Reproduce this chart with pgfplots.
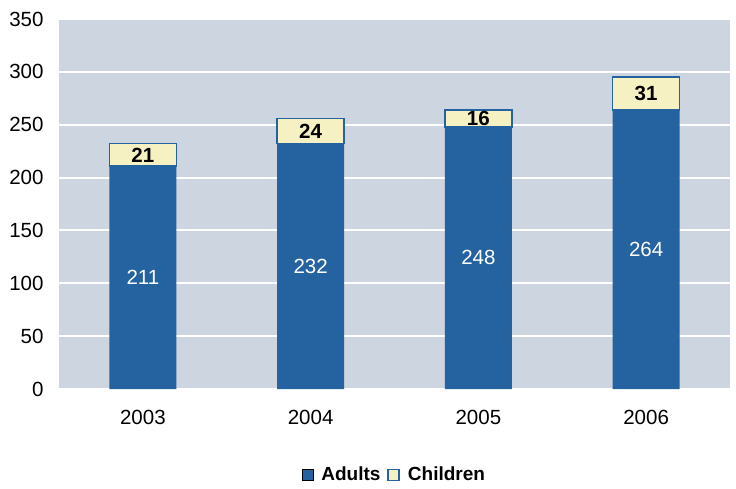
\documentclass[border=0pt]{standalone}
\usepackage{fontspec}
\setmainfont{Liberation Sans}
\usepackage{pgfplots}
\pgfplotsset{compat=1.18}
\definecolor{adultblue}{HTML}{2462A0}
\definecolor{childyel}{HTML}{F5F1C2}
\definecolor{plotbg}{HTML}{CCD5E0}

\begin{document}
\begin{tikzpicture}
\useasboundingbox (-59pt,-99pt) rectangle (677pt,389pt);
\begin{axis}[
  scale only axis, width=671pt, height=370pt,
  ybar stacked, bar width=67pt,
  xmin=-0.5, xmax=3.5, ymin=0, ymax=350,
  xtick=data, xticklabels={2003,2004,2005,2006},
  ytick={0,50,...,350},
  /pgf/number format/assume math mode=true,
  tick label style={font=\fontsize{20.5}{22}\selectfont},
  xticklabel style={yshift=-18pt},
  yticklabel style={xshift=-12pt},
  major tick length=0pt,
  axis line style={draw=none},
  axis background/.style={fill=plotbg},
  ymajorgrids, grid style={white, line width=2pt},
  legend columns=2,
  legend style={at={(0.5,-0.2)}, anchor=north, draw=none, fill=none,
    font=\bfseries\fontsize{19}{22}\selectfont,
    /tikz/every odd column/.append style={column sep=6pt},
    /tikz/every even column/.append style={column sep=5pt}},
  legend image code/.code={\draw[#1] (0pt,-5.5pt) rectangle (11pt,5.5pt);},
  point meta=rawy,
  nodes near coords,
  every node near coord/.append style={anchor=center},
]
\addplot[fill=adultblue, draw=none,
  every node near coord/.append style={white, font=\fontsize{20.5}{22}\selectfont}]
  coordinates {(0,211) (1,232) (2,248) (3,264)};
\addplot[fill=childyel, draw=adultblue, line width=1.5pt,
  every node near coord/.append style={black, font=\bfseries\fontsize{20.5}{22}\selectfont}]
  coordinates {(0,21) (1,24) (2,16) (3,31)};
\legend{Adults, Children}
\end{axis}
\end{tikzpicture}
\end{document}
